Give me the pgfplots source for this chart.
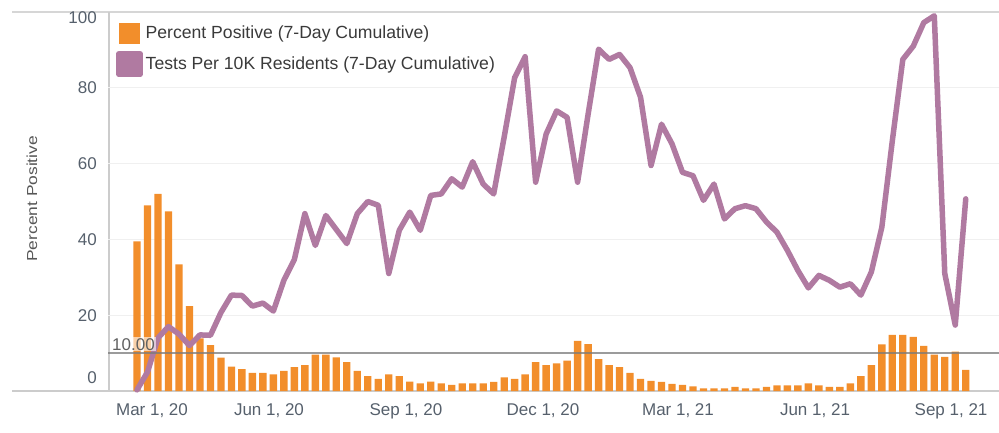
\documentclass[border=0pt]{standalone}
\usepackage{pgfplots}
\usepackage{pgfplotstable}
\pgfplotsset{compat=1.18}
\usepackage{fontspec}
\setmainfont{Liberation Sans}
\definecolor{orangeC}{HTML}{F28E2B}
\definecolor{purpleC}{HTML}{B07AA1}
\definecolor{tickC}{HTML}{56606C}
\definecolor{axC}{HTML}{CCCCCC}
\definecolor{refC}{HTML}{7A7A7A}
\definecolor{gridC}{HTML}{F0F0F0}
\definecolor{txtC}{HTML}{3A3A3A}
\newcommand\ff{\fontsize{17bp}{20bp}\selectfont}
\newcommand\lf{\fontsize{17.6bp}{20bp}\selectfont}

\pgfplotstableread{
i pp tests
1 39.5 0.3
2 49.0 5.0
3 52.0 14.0
4 47.4 17.0
5 33.4 15.0
6 22.4 12.0
7 13.9 14.8
8 12.1 14.7
9 8.8 20.7
10 6.4 25.3
11 5.8 25.2
12 4.8 22.4
13 4.8 23.2
14 4.4 21.1
15 5.3 29.2
16 6.3 34.7
17 6.8 46.8
18 9.6 38.4
19 9.6 46.3
20 8.9 42.6
21 7.6 38.9
22 5.3 46.8
23 3.9 50.0
24 3.2 49.0
25 4.4 31.0
26 3.9 42.4
27 2.5 47.2
28 2.0 42.4
29 2.5 51.6
30 2.0 52.0
31 1.6 56.0
32 2.0 53.8
33 2.0 60.5
34 2.0 54.6
35 2.4 52.0
36 3.6 67.0
37 3.2 82.7
38 4.4 88.2
39 7.6 55.1
40 6.8 67.8
41 7.3 73.9
42 8.0 72.2
43 13.2 55.1
44 12.4 73.0
45 8.4 90.2
46 6.8 87.5
47 6.3 88.8
48 4.8 85.3
49 3.2 77.5
50 2.7 59.5
51 2.4 70.4
52 1.9 65.2
53 1.6 57.7
54 1.2 56.8
55 0.7 50.3
56 0.7 54.6
57 0.7 45.4
58 1.1 48.1
59 0.7 48.9
60 0.7 48.1
61 1.1 44.6
62 1.5 41.9
63 1.5 37.1
64 1.5 31.8
65 2.0 27.2
66 1.5 30.5
67 1.1 29.2
68 1.1 27.4
69 2.0 28.3
70 3.9 25.3
71 6.8 31.4
72 12.3 43.2
73 14.8 66.0
74 14.8 87.5
75 14.3 91.0
76 11.9 97.2
77 9.6 99.0
78 9.0 31.0
79 10.4 17.4
80 5.6 50.7
}\data

\begin{document}
\begin{tikzpicture}[x=1bp,y=1bp]
\path[use as bounding box] (0,0) rectangle (999,432);
\draw[axC, line width=1.5bp] (12,41) -- (999,41);
\draw[axC!80, line width=1.2bp] (12,420) -- (999,420);
\draw[axC, line width=1.2bp] (109,41) -- (109,420);
\begin{axis}[
  at={(108bp,41bp)}, anchor=south west,
  scale only axis, width=891bp, height=379bp,
  xmin=-1.765, xmax=83.17, ymin=0, ymax=100,
  clip=false,
  axis line style={draw=none},
  major tick length=0pt,
  xtick={2.43,13.58,26.64,39.70,52.57,65.63,78.60},
  xticklabels={{Mar 1, 20},{Jun 1, 20},{Sep 1, 20},{Dec 1, 20},{Mar 1, 21},{Jun 1, 21},{Sep 1, 21}},
  ytick={3.4,20,40,60,80,98.4},
  yticklabels={0,20,40,60,80,100},
  extra y ticks={20,40,60,80},
  extra y tick labels={},
  extra y tick style={grid=major, major grid style={gridC, line width=1bp}},
  /pgf/number format/assume math mode=true,
  xticklabel style={font=\ff, text=tickC, inner sep=0pt, anchor=north, yshift=-12bp},
  yticklabel style={font=\ff, text=tickC, inner sep=0pt, anchor=east, xshift=-11bp},
  ylabel={\scalebox{1.2}[1]{Percent Positive}},
  ylabel style={font=\fontsize{14.5bp}{16bp}\selectfont, text=txtC!85, at={(axis description cs:-0.0853,0.507)}, anchor=center},
  legend style={at={(rel axis cs:0.009,0.972)}, anchor=north west, draw=none, fill=none,
    inner sep=0pt, font=\lf, text=txtC, row sep=7bp,
    /tikz/every odd column/.append style={column sep=1bp}},
  legend cell align=left,
]
\addplot[ybar, bar width=0.7, fill=orangeC, draw=none,
  legend image code/.code={\fill[orangeC] (0bp,-10.5bp) rectangle (21bp,10.5bp);}]
  table[x=i, y=pp]{\data};
\addlegendentry{Percent Positive (7-Day Cumulative)}
\addplot[purpleC, line width=5.5bp, line join=round, line cap=round,
  legend image code/.code={\fill[purpleC] (0bp,-10.5bp) rectangle (21bp,10.5bp);}]
  table[x=i, y=tests]{\data};
\addlegendentry{Tests Per 10K Residents (7-Day Cumulative)}
\draw[refC, line width=2.5bp, opacity=0.75] (axis cs:-1.765,10) -- (axis cs:83.17,10);
\node[anchor=south west, font=\ff, text=txtC!80, fill=white, fill opacity=0.6, text opacity=1, inner sep=1bp]
  at (axis cs:-1.765,10) [xshift=3bp, yshift=1.5bp] {10.00};
\end{axis}
\end{tikzpicture}
\end{document}
